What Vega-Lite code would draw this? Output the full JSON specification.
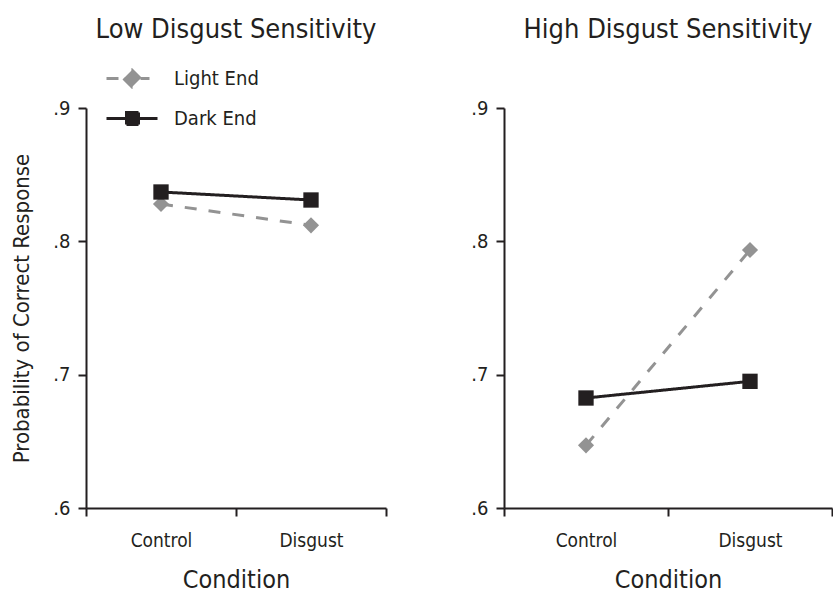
{
  "$schema": "https://vega.github.io/schema/vega-lite/v6.json",
  "padding": {"left": 10, "top": 16, "right": 0, "bottom": 0},
  "spacing": 83,
  "data": {"values": [
    {"panel": "Low", "condition": "Control", "series": "Light End", "value": 0.828},
    {"panel": "Low", "condition": "Disgust", "series": "Light End", "value": 0.812},
    {"panel": "Low", "condition": "Control", "series": "Dark End", "value": 0.837},
    {"panel": "Low", "condition": "Disgust", "series": "Dark End", "value": 0.831},
    {"panel": "High", "condition": "Control", "series": "Light End", "value": 0.647},
    {"panel": "High", "condition": "Disgust", "series": "Light End", "value": 0.7935},
    {"panel": "High", "condition": "Control", "series": "Dark End", "value": 0.6825},
    {"panel": "High", "condition": "Disgust", "series": "Dark End", "value": 0.695}
  ]},
  "config": {
    "font": "DejaVu Sans Condensed, sans-serif",
    "view": {"stroke": null},
    "axis": {
      "domainColor": "#231f20", "domainWidth": 2,
      "tickColor": "#231f20", "tickWidth": 2, "tickSize": 8,
      "labelColor": "#231f20", "titleColor": "#231f20",
      "grid": false, "titleFontWeight": "normal"
    },
    "title": {"fontSize": 27, "fontWeight": "normal", "color": "#231f20", "offset": 54},
    "legend": {"title": null, "orient": "none", "legendX": 35, "legendY": -41, "symbolSize": 400, "labelFontSize": 20, "labelOffset": 30, "rowPadding": 13, "labelColor": "#231f20", "symbolStrokeWidth": 3}
  },
  "hconcat": [
    {
      "width": 300, "height": 400,
      "title": {"text": "Low Disgust Sensitivity"},
      "transform": [{"filter": "datum.panel === 'Low'"}],
      "encoding": {
        "x": {"field": "condition", "type": "nominal",
          "scale": {"type": "band", "domain": ["Control", "Disgust"], "paddingInner": 0, "paddingOuter": 0},
          "axis": {"title": "Condition", "labelAngle": 0, "tickBand": "extent", "labelFontSize": 19, "titleFontSize": 25, "labelPadding": 15, "titlePadding": 17}},
        "y": {"field": "value", "type": "quantitative",
          "scale": {"domain": [0.6, 0.9], "nice": false, "zero": false},
          "axis": {"title": "Probability of Correct Response", "values": [0.6, 0.7, 0.8, 0.9], "labelExpr": "substring(format(datum.value, '.1f'), 1)", "labelFontSize": 20, "labelPadding": 8, "titleFontSize": 22, "titlePadding": 19}},
        "color": {"field": "series", "type": "nominal",
          "scale": {"domain": ["Light End", "Dark End"], "range": ["#939393", "#231f20"]},
          "legend": {
            "encode": {"symbols": {"update": {
              "shape": {"signal": "datum.value === 'Light End' ? 'M-2.6,0H-1.4M0.8,0H1.7M-0.05,-0.85L0.8,0L-0.05,0.85L-0.9,0Z' : 'M-2.6,0H2.5M-0.6,-0.6H0.6V0.6H-0.6Z'"},
              "fill": {"signal": "datum.value === 'Light End' ? '#939393' : '#231f20'"},
              "stroke": {"signal": "datum.value === 'Light End' ? '#939393' : '#231f20'"},
              "strokeDash": {"value": []},
              "opacity": {"value": 1}, "fillOpacity": {"value": 1}, "strokeOpacity": {"value": 1}
            }}}}}
      },
      "layer": [
        {"mark": {"type": "line", "strokeWidth": 3},
         "encoding": {"strokeDash": {"field": "series", "type": "nominal", "scale": {"domain": ["Light End", "Dark End"], "range": [[12, 12], [1, 0]]}, "legend": null}}},
        {"transform": [{"filter": "datum.series === 'Light End'"}],
         "mark": {"type": "point", "shape": "diamond", "filled": true, "opacity": 1, "size": 260}},
        {"transform": [{"filter": "datum.series === 'Dark End'"}],
         "mark": {"type": "point", "shape": "square", "filled": true, "opacity": 1, "size": 235}}
      ]
    },
    {
      "width": 328, "height": 400,
      "title": {"text": "High Disgust Sensitivity"},
      "transform": [{"filter": "datum.panel === 'High'"}],
      "encoding": {
        "x": {"field": "condition", "type": "nominal",
          "scale": {"type": "band", "domain": ["Control", "Disgust"], "paddingInner": 0, "paddingOuter": 0},
          "axis": {"title": "Condition", "labelAngle": 0, "tickBand": "extent", "labelFontSize": 19, "titleFontSize": 25, "labelPadding": 15, "titlePadding": 17}},
        "y": {"field": "value", "type": "quantitative",
          "scale": {"domain": [0.6, 0.9], "nice": false, "zero": false},
          "axis": {"title": null, "values": [0.6, 0.7, 0.8, 0.9], "labelExpr": "substring(format(datum.value, '.1f'), 1)", "labelFontSize": 20, "labelPadding": 8}},
        "color": {"field": "series", "type": "nominal",
          "scale": {"domain": ["Light End", "Dark End"], "range": ["#939393", "#231f20"]},
          "legend": {
            "encode": {"symbols": {"update": {
              "shape": {"signal": "datum.value === 'Light End' ? 'M-2.6,0H-1.4M0.8,0H1.7M-0.05,-0.85L0.8,0L-0.05,0.85L-0.9,0Z' : 'M-2.6,0H2.5M-0.6,-0.6H0.6V0.6H-0.6Z'"},
              "fill": {"signal": "datum.value === 'Light End' ? '#939393' : '#231f20'"},
              "stroke": {"signal": "datum.value === 'Light End' ? '#939393' : '#231f20'"},
              "strokeDash": {"value": []},
              "opacity": {"value": 1}, "fillOpacity": {"value": 1}, "strokeOpacity": {"value": 1}
            }}}}}
      },
      "layer": [
        {"mark": {"type": "line", "strokeWidth": 3},
         "encoding": {"strokeDash": {"field": "series", "type": "nominal", "scale": {"domain": ["Light End", "Dark End"], "range": [[12, 12], [1, 0]]}, "legend": null}}},
        {"transform": [{"filter": "datum.series === 'Light End'"}],
         "mark": {"type": "point", "shape": "diamond", "filled": true, "opacity": 1, "size": 260}},
        {"transform": [{"filter": "datum.series === 'Dark End'"}],
         "mark": {"type": "point", "shape": "square", "filled": true, "opacity": 1, "size": 235}}
      ]
    }
  ]
}
